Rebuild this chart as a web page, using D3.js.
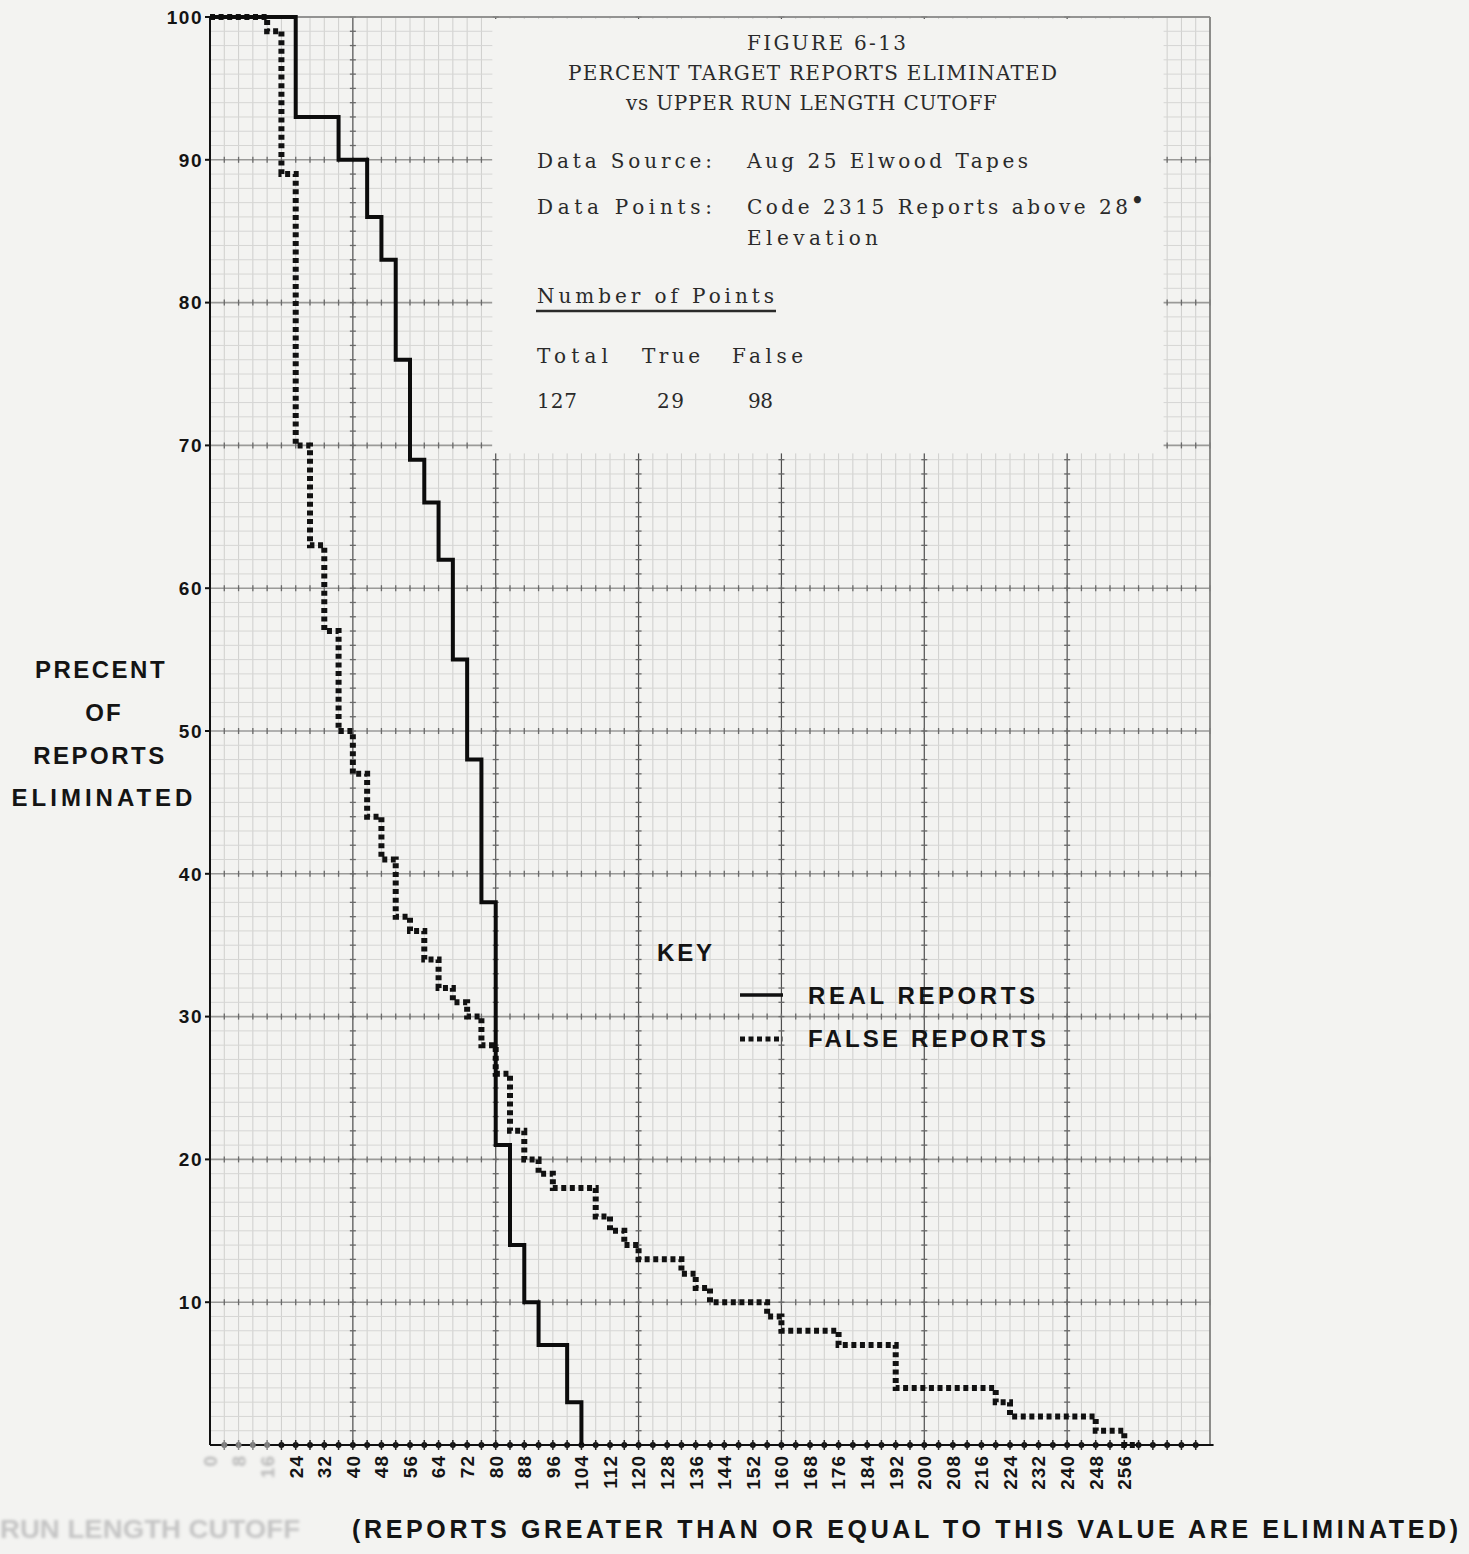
<!DOCTYPE html>
<html>
<head>
<meta charset="utf-8">
<script src="https://cdn.jsdelivr.net/npm/d3@7"></script>
<style>
body { margin: 0; background: #f3f3f1; }
svg { display: block; }
.lbl { font-family: "Liberation Sans", Arial, sans-serif; font-weight: bold; fill: #141414; }
.type { font-family: "DejaVu Serif", "Liberation Serif", serif; fill: #2a2a2a; }
</style>
</head>
<body>
<svg id="svg" width="1469" height="1554"></svg>
<script>
// step data: cutoff value -> percent eliminated
const realX   = [0, 24, 36, 44, 48, 52, 56, 60, 64, 68, 72, 76, 80, 84, 88, 92, 100, 104];
const realPct = [100, 93, 90, 86, 83, 76, 69, 66, 62, 55, 48, 38, 21, 14, 10, 7, 3, 0];

const falseX   = [0, 16, 20, 24, 28, 32, 36, 40, 44, 48, 52, 56, 60, 64, 68, 72, 76, 80, 84, 88,
                  92, 96, 108, 112, 116, 120, 132, 136, 140, 156, 160, 176, 192, 220, 224, 248, 256, 260];
const falsePct = [100, 99, 89, 70, 63, 57, 50, 47, 44, 41, 37, 36, 34, 32, 31, 30, 28, 26, 22, 20,
                  19, 18, 16, 15, 14, 13, 12, 11, 10, 9, 8, 7, 4, 3, 2, 1, 0, 0];

const xTickLabels = [0, 8, 16, 24, 32, 40, 48, 56, 64, 72, 80, 88, 96, 104, 112, 120, 128, 136,
                     144, 152, 160, 168, 176, 184, 192, 200, 208, 216, 224, 232, 240, 248, 256];
const yTickLabels = [10, 20, 30, 40, 50, 60, 70, 80, 90, 100];
const fadedXLabels = [0, 8, 16];

const titleLines = ["FIGURE 6-13", "PERCENT TARGET REPORTS ELIMINATED", "vs UPPER RUN LENGTH CUTOFF"];
const pointHeads = ["Total", "True", "False"];
const pointCounts = ["127", "29", "98"];
const keyLabels = ["REAL REPORTS", "FALSE REPORTS"];
const yTitle = ["PRECENT", "OF", "REPORTS", "ELIMINATED"];

const svg = d3.select("#svg");
const W = 1469, H = 1554;
const margin = {top: 17, right: 259, bottom: 109, left: 210};

const x = d3.scaleLinear().domain([0, 280]).range([margin.left, W - margin.right]);
const y = d3.scaleLinear().domain([0, 100]).range([H - margin.bottom, margin.top]);

const defs = svg.append("defs");
defs.append("filter").attr("id", "blur").append("feGaussianBlur").attr("stdDeviation", 1.8);

svg.append("rect").attr("width", W).attr("height", H).attr("fill", "#f3f3f1");

//// grid paper
const grid = svg.append("g");
const xMinor = d3.range(0, 281, 4), yMinor = d3.range(0, 101, 1);

grid.selectAll(".vmin").data(xMinor.filter(d => d % 40)).join("line")
    .attr("x1", d => x(d)).attr("x2", d => x(d))
    .attr("y1", y(100)).attr("y2", y(0))
    .attr("stroke", "#cfcfcd").attr("stroke-width", 1);

grid.selectAll(".hmin").data(yMinor.filter(d => d % 10)).join("line")
    .attr("x1", x(0)).attr("x2", x(280))
    .attr("y1", d => y(d)).attr("y2", d => y(d))
    .attr("stroke", "#d6d6d4").attr("stroke-width", 1);

// major lines
grid.selectAll(".hmaj").data(d3.range(10, 101, 10)).join("line")
    .attr("x1", x(0)).attr("x2", x(280))
    .attr("y1", d => y(d)).attr("y2", d => y(d))
    .attr("stroke", "#9a9a98").attr("stroke-width", 1.6);

grid.selectAll(".vmaj").data(d3.range(40, 281, 40)).join("line")
    .attr("x1", d => x(d)).attr("x2", d => x(d))
    .attr("y1", y(100)).attr("y2", y(0))
    .attr("stroke", "#4e4e4e").attr("stroke-width", 1.2);

// little ruler crosses along the major lines
d3.range(10, 100, 10).forEach(v => {
    grid.append("g").selectAll("line").data(xMinor).join("line")
        .attr("x1", d => x(d)).attr("x2", d => x(d))
        .attr("y1", y(v) - 3).attr("y2", y(v) + 3)
        .attr("stroke", "#6a6a6a").attr("stroke-width", 1.3);
});
d3.range(40, 280, 40).forEach(v => {
    grid.append("g").selectAll("line").data(yMinor).join("line")
        .attr("x1", x(v) - 3).attr("x2", x(v) + 3)
        .attr("y1", d => y(d)).attr("y2", d => y(d))
        .attr("stroke", "#6a6a6a").attr("stroke-width", 1.3);
});

// blank patch where the title block was typed
svg.append("rect")
    .attr("x", x(79)).attr("y", y(100) + 2)
    .attr("width", x(267) - x(79)).attr("height", y(70) + 8 - y(100) - 2)
    .attr("fill", "#f3f3f1");

//// frame + axes
svg.append("line").attr("x1", x(0)).attr("x2", x(280)).attr("y1", y(100)).attr("y2", y(100))
    .attr("stroke", "#8a8a88").attr("stroke-width", 1.5);
svg.append("line").attr("x1", x(280)).attr("x2", x(280)).attr("y1", y(100)).attr("y2", y(0))
    .attr("stroke", "#8a8a88").attr("stroke-width", 1.3);
svg.append("line").attr("x1", x(0)).attr("x2", x(0)).attr("y1", y(100)).attr("y2", y(0))
    .attr("stroke", "#111").attr("stroke-width", 2);
svg.append("line").attr("x1", x(0)).attr("x2", x(281)).attr("y1", y(0)).attr("y2", y(0))
    .attr("stroke", "#111").attr("stroke-width", 2);

// y ticks
const yax = svg.append("g");
yax.selectAll("line").data(yTickLabels).join("line")
    .attr("x1", x(0) - 5).attr("x2", x(0))
    .attr("y1", d => y(d)).attr("y2", d => y(d))
    .attr("stroke", "#111").attr("stroke-width", 2);
yax.selectAll("text").data(yTickLabels).join("text")
    .attr("class", "lbl")
    .attr("x", x(0) - 7).attr("y", d => y(d)).attr("dy", "0.36em")
    .attr("text-anchor", "end")
    .style("font-size", "19px")
    .style("letter-spacing", "1.5px")
    .text(d => d);

// x ticks: dots every 4
const xax = svg.append("g");
xax.selectAll("circle").data(xMinor.filter(d => d > 0 && d < 280)).join("circle")
    .attr("cx", d => x(d)).attr("cy", y(0)).attr("r", 3)
    .attr("fill", d => d < 20 ? "#777" : "#111");
xax.selectAll("line").data(xMinor.filter(d => d > 0 && d < 280)).join("line")
    .attr("x1", d => x(d)).attr("x2", d => x(d))
    .attr("y1", y(0) - 5).attr("y2", y(0) + 5)
    .attr("stroke", d => d < 20 ? "#888" : "#222").attr("stroke-width", 1.5);

xax.selectAll("text").data(xTickLabels).join("text")
    .attr("class", "lbl")
    .attr("transform", d => `translate(${x(d)},${y(0) + 10}) rotate(-90)`)
    .attr("dy", "0.36em")
    .attr("text-anchor", "end")
    .style("font-size", "19px")
    .style("letter-spacing", "1px")
    .style("fill", d => fadedXLabels.includes(d) ? "#b8b8b8" : "#141414")
    .attr("filter", d => fadedXLabels.includes(d) ? "url(#blur)" : null)
    .text(d => d);

//// series
var line = d3.line()
    .x(d => x(d[0]))
    .y(d => y(d[1]))
    .curve(d3.curveStepAfter);

svg.append("path")
    .datum(d3.zip(falseX, falsePct))
    .attr("d", line)
    .attr("fill", "none")
    .attr("stroke", "#111")
    .attr("stroke-width", 6)
    .attr("stroke-dasharray", "5,3.6");

svg.append("path")
    .datum(d3.zip(realX, realPct))
    .attr("d", line)
    .attr("fill", "none")
    .attr("stroke", "#0c0c0c")
    .attr("stroke-width", 4)
    .attr("stroke-linejoin", "miter");

//// axis titles
const yt = svg.append("g");
const yTitlePos = [[101, 678, 2.5], [104, 721, 2], [100, 764, 2.5], [104, 806, 4]];
yTitle.forEach((s, i) => {
    const [cx, yb, ls] = yTitlePos[i];
    yt.append("text").attr("class", "lbl")
        .attr("x", cx).attr("y", yb)
        .attr("text-anchor", "middle")
        .style("font-size", "24px")
        .style("letter-spacing", ls + "px")
        .text(s);
});

svg.append("text").attr("class", "lbl")
    .attr("x", 0).attr("y", 1538)
    .attr("textLength", 300).attr("lengthAdjust", "spacingAndGlyphs")
    .style("font-size", "25px").style("fill", "#c4c4c4")
    .attr("filter", "url(#blur)")
    .text("RUN LENGTH CUTOFF");
svg.append("text").attr("class", "lbl")
    .attr("x", 352).attr("y", 1538)
    .attr("textLength", 1106).attr("lengthAdjust", "spacing")
    .style("font-size", "25px")
    .text("(REPORTS GREATER THAN OR EQUAL TO THIS VALUE ARE ELIMINATED)");

//// typed title block
const tb = svg.append("g");
function typed(s, a, b, yb) {
    return tb.append("text").attr("class", "type")
        .attr("x", a).attr("y", yb)
        .attr("textLength", b - a).attr("lengthAdjust", "spacing")
        .style("font-size", "20px")
        .text(s);
}
typed(titleLines[0], 747, 906, 50);
typed(titleLines[1], 568, 1057, 80);
typed(titleLines[2], 626, 997, 110);
typed("Data Source:", 537, 712, 168);
typed("Aug 25 Elwood Tapes", 747, 1028, 168);
typed("Data Points:", 537, 712, 214);
typed("Code 2315 Reports above 28", 747, 1128, 214);
tb.append("text").attr("class", "type").attr("x", 1131).attr("y", 207)
    .style("font-size", "20px").style("font-weight", "bold").text("•");
typed("Elevation", 747, 878, 245);
typed("Number of Points", 537, 774, 303);
tb.append("line").attr("x1", 536).attr("x2", 776).attr("y1", 311).attr("y2", 311)
    .attr("stroke", "#2a2a2a").attr("stroke-width", 2.5);
const headSpans = [[537, 608], [642, 700], [732, 803]];
pointHeads.forEach((s, i) => typed(s, headSpans[i][0], headSpans[i][1], 363));
const countSpans = [[537, 577], [657, 684], [748, 773]];
pointCounts.forEach((s, i) => typed(s, countSpans[i][0], countSpans[i][1], 408));

//// key
const key = svg.append("g");
key.append("text").attr("class", "lbl").attr("x", 657).attr("y", 961)
    .attr("textLength", 55).attr("lengthAdjust", "spacing")
    .style("font-size", "24px").text("KEY");
key.append("line").attr("x1", 740).attr("x2", 783).attr("y1", 995).attr("y2", 995)
    .attr("stroke", "#111").attr("stroke-width", 3.5);
key.append("line").attr("x1", 740).attr("x2", 783).attr("y1", 1039).attr("y2", 1039)
    .attr("stroke", "#111").attr("stroke-width", 5).attr("stroke-dasharray", "5,3.5");
const keySpans = [[808, 1035, 1004], [808, 1046, 1047]];
keyLabels.forEach((s, i) => {
    key.append("text").attr("class", "lbl")
        .attr("x", keySpans[i][0]).attr("y", keySpans[i][2])
        .attr("textLength", keySpans[i][1] - keySpans[i][0]).attr("lengthAdjust", "spacing")
        .style("font-size", "24px")
        .text(s);
});
</script>
</body>
</html>
